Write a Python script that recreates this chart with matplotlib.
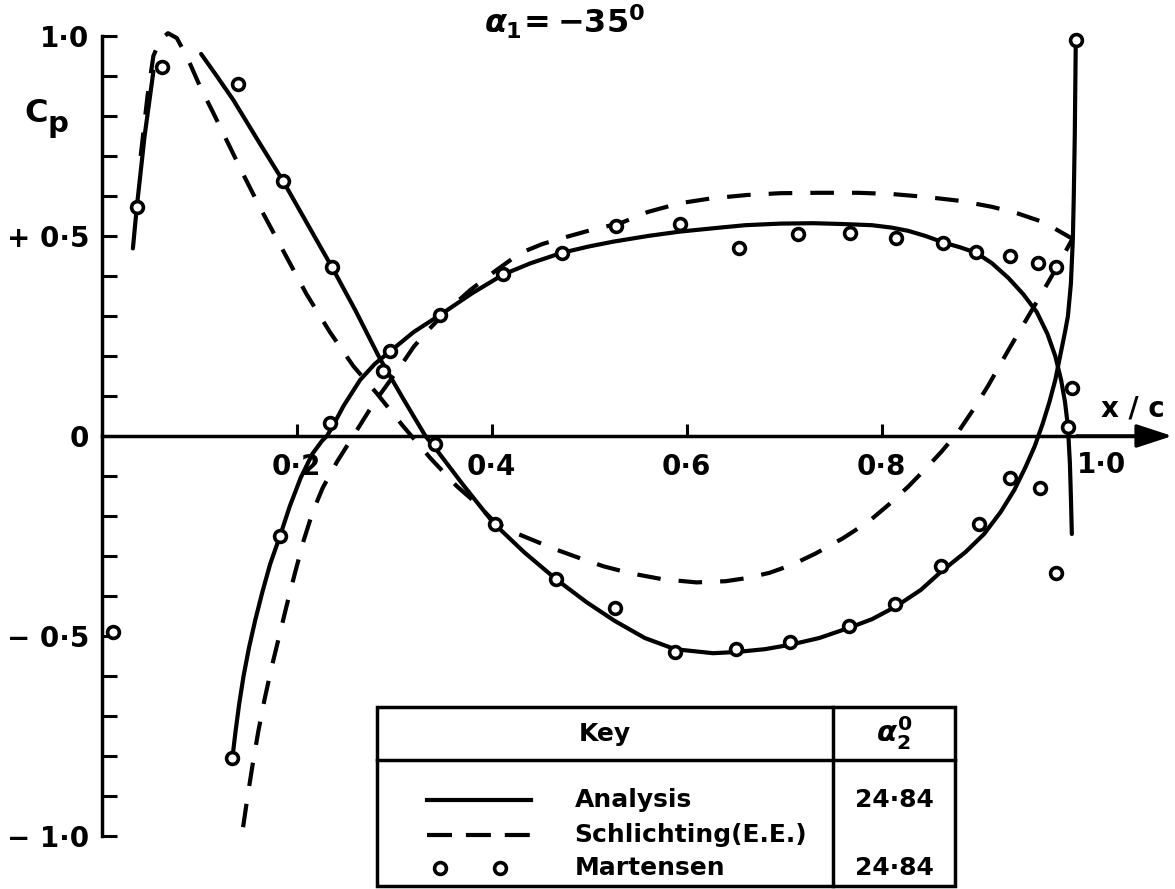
import numpy as np
import matplotlib.pyplot as plt
from matplotlib.patches import Rectangle
from matplotlib.lines import Line2D

plt.rcParams["font.family"] = ["DejaVu Sans"]
plt.rcParams["font.weight"] = "bold"
plt.rcParams["mathtext.fontset"] = "custom"
plt.rcParams["mathtext.rm"] = "DejaVu Sans:bold"
plt.rcParams["mathtext.it"] = "DejaVu Sans:italic:bold"
plt.rcParams["mathtext.bf"] = "DejaVu Sans:bold"
plt.rcParams["lines.scale_dashes"] = False

# --- Analysis (solid), pressure surface: leading-edge piece and main run ---
x_an_le = [0.032, 0.036, 0.044, 0.053]
cp_an_le = [0.469, 0.572, 0.75, 0.911]
x_an_p = [0.102, 0.118, 0.135, 0.160, 0.186, 0.211, 0.236, 0.260, 0.285, 0.310,
          0.332, 0.342, 0.370, 0.402, 0.433, 0.466, 0.497, 0.526, 0.557, 0.588,
          0.627, 0.651, 0.680, 0.706, 0.736, 0.766, 0.790, 0.814, 0.840, 0.861,
          0.886, 0.905, 0.922, 0.936, 0.948, 0.957, 0.965, 0.972, 0.978, 0.983,
          0.988, 0.991, 0.994, 0.996, 0.997, 0.998, 0.999]
cp_an_p = [0.955, 0.90, 0.84, 0.74, 0.6375, 0.53, 0.423, 0.315, 0.195, 0.09,
           0.0, -0.03, -0.12, -0.218, -0.29, -0.358, -0.415, -0.462, -0.505, -0.533,
           -0.543, -0.54, -0.533, -0.522, -0.505, -0.48, -0.458, -0.427, -0.385, -0.339,
           -0.29, -0.245, -0.19, -0.135, -0.075, -0.025, 0.03, 0.085, 0.14, 0.20,
           0.26, 0.30, 0.38, 0.49, 0.60, 0.75, 0.98]

# --- Analysis (solid), suction surface ---
x_an_s = [0.134, 0.1372, 0.1410, 0.1455, 0.1510, 0.1575, 0.1648, 0.1728, 0.183, 0.193,
          0.204, 0.216, 0.226, 0.231, 0.236, 0.248, 0.265, 0.280, 0.296, 0.320,
          0.347, 0.380, 0.412, 0.440, 0.472, 0.500, 0.525, 0.560, 0.593, 0.630,
          0.660, 0.696, 0.730, 0.759, 0.790, 0.810, 0.827, 0.845, 0.863, 0.880,
          0.897, 0.913, 0.930, 0.945, 0.959, 0.970, 0.978, 0.984, 0.988, 0.991,
          0.993, 0.994, 0.995]
cp_an_s = [-0.806, -0.74, -0.67, -0.60, -0.53, -0.46, -0.39, -0.32, -0.249, -0.175,
           -0.105, -0.045, -0.012, 0.0, 0.02, 0.075, 0.14, 0.18, 0.212, 0.26,
           0.3025, 0.357, 0.404, 0.432, 0.458, 0.474, 0.486, 0.50, 0.511, 0.52,
           0.527, 0.531, 0.532, 0.53, 0.527, 0.521, 0.513, 0.50, 0.484, 0.472,
           0.458, 0.432, 0.395, 0.355, 0.31, 0.255, 0.20, 0.14, 0.085, 0.023,
           -0.068, -0.15, -0.245]

# --- Schlichting (E.E.) (dashed), pressure surface ---
x_sc_p = [0.040, 0.047, 0.053, 0.060, 0.068, 0.077, 0.088, 0.101, 0.114, 0.128,
          0.145, 0.162, 0.178, 0.193, 0.210, 0.234, 0.258, 0.282, 0.309, 0.337,
          0.364, 0.385, 0.403, 0.420, 0.439, 0.465, 0.491, 0.515, 0.542, 0.575,
          0.610, 0.640, 0.662, 0.685, 0.708, 0.732, 0.760, 0.786, 0.807, 0.827,
          0.845, 0.861, 0.879, 0.895, 0.909, 0.930, 0.950, 0.965, 0.978, 0.995]
cp_sc_p = [0.70, 0.85, 0.95, 0.99, 1.007, 0.995, 0.945, 0.873, 0.81, 0.74,
           0.655, 0.573, 0.50, 0.432, 0.355, 0.26, 0.175, 0.107, 0.025, -0.055,
           -0.125, -0.17, -0.215, -0.238, -0.257, -0.283, -0.306, -0.326, -0.343, -0.358,
           -0.366, -0.363, -0.355, -0.342, -0.322, -0.294, -0.256, -0.215, -0.172, -0.127,
           -0.082, -0.04, 0.012, 0.07, 0.125, 0.215, 0.298, 0.36, 0.415, 0.49]

# --- Schlichting (E.E.) (dashed), suction surface ---
x_sc_s = [0.145, 0.1497, 0.1549, 0.1605, 0.1669, 0.1741, 0.1821, 0.1901, 0.1985, 0.2073,
          0.2164, 0.2266, 0.2412, 0.258, 0.279, 0.306, 0.320, 0.333, 0.355, 0.378,
          0.405, 0.429, 0.452, 0.477, 0.505, 0.532, 0.560, 0.593, 0.625, 0.662,
          0.696, 0.735, 0.776, 0.810, 0.844, 0.880, 0.913, 0.940, 0.964, 0.980, 0.995]
cp_sc_s = [-0.978, -0.90, -0.82, -0.74, -0.66, -0.58, -0.50, -0.42, -0.34, -0.26,
           -0.19, -0.13, -0.065, 0.0, 0.082, 0.173, 0.223, 0.26, 0.315, 0.365,
           0.415, 0.457, 0.48, 0.498, 0.517, 0.532, 0.56, 0.582, 0.594, 0.6025,
           0.607, 0.608, 0.608, 0.605, 0.598, 0.588, 0.573, 0.556, 0.536, 0.515, 0.494]

# --- Martensen (circles) ---
x_mt_p = [0.036, 0.062, 0.140, 0.186, 0.236, 0.288, 0.342, 0.403, 0.466, 0.526,
          0.588, 0.651, 0.706, 0.766, 0.814, 0.861, 0.900, 0.932, 0.962, 0.979, 0.999]
cp_mt_p = [0.572, 0.923, 0.88, 0.6375, 0.423, 0.163, -0.021, -0.22, -0.358, -0.429,
           -0.541, -0.533, -0.516, -0.475, -0.42, -0.325, -0.22, -0.106, -0.131, -0.342, 0.99]
x_mt_s = [0.012, 0.134, 0.183, 0.234, 0.296, 0.347, 0.412, 0.472, 0.527, 0.593,
          0.654, 0.714, 0.767, 0.815, 0.863, 0.897, 0.932, 0.960, 0.979, 0.995, 0.991]
cp_mt_s = [-0.49, -0.806, -0.249, 0.032, 0.212, 0.3025, 0.404, 0.458, 0.525, 0.53,
           0.471, 0.505, 0.507, 0.494, 0.483, 0.461, 0.45, 0.432, 0.422, 0.119, 0.023]

y_major = [-1.0, -0.5, 0.0, 0.5, 1.0]
y_major_labels = ["\u2212 1\u00b70", "\u2212 0\u00b75", "0", "+ 0\u00b75", "1\u00b70"]
x_major = [0.2, 0.4, 0.6, 0.8]
x_major_labels = ["0\u00b72", "0\u00b74", "0\u00b76", "0\u00b78"]

key_rows = ["Analysis", "Schlichting(E.E.)", "Martensen"]
key_alpha2 = ["24\u00b784", "", "24\u00b784"]

LW = 3.0
DASH = (0, (17, 13))

fig = plt.figure(figsize=(11.75, 8.89), dpi=100)
ax = fig.add_axes([0, 0, 1, 1])
ax.set_xlim(-0.1043, 1.1008)
ax.set_ylim(-1.1325, 1.09)

solid = dict(color="black", lw=LW, solid_joinstyle="round", solid_capstyle="round", zorder=2)
dashed = dict(color="black", lw=LW, linestyle=DASH, dash_capstyle="butt", zorder=2)
ax.plot(x_an_le, cp_an_le, **solid)
ax.plot(x_an_p, cp_an_p, **solid)
ax.plot(x_an_s, cp_an_s, **solid)
ax.plot(x_sc_p, cp_sc_p, **dashed)
ax.plot(x_sc_s, cp_sc_s, **dashed)
circ = dict(ls="none", marker="o", ms=8.5, mfc="white", mec="black", mew=2.6, zorder=3)
ax.plot(x_mt_p, cp_mt_p, **circ)
ax.plot(x_mt_s, cp_mt_s, **circ)

# axes drawn through the origin, x axis ends in an arrow
for side in ("top", "right"):
    ax.spines[side].set_visible(False)
ax.spines["left"].set_position(("data", 0))
ax.spines["left"].set_bounds(-1, 1)
ax.spines["bottom"].set_position(("data", 0))
ax.spines["bottom"].set_bounds(0, 1.06)
for side in ("left", "bottom"):
    ax.spines[side].set_linewidth(2.5)
ax.annotate("", xy=(1.098, 0), xytext=(1.0, 0),
            arrowprops=dict(arrowstyle="-|>,head_length=1.1,head_width=0.36",
                            lw=2.5, color="black", shrinkA=0, shrinkB=0,
                            mutation_scale=20))

ax.set_yticks(y_major)
ax.set_yticklabels(y_major_labels, fontsize=20, fontweight="bold")
ax.set_yticks([v / 10 for v in range(-9, 10) if v not in (-5, 0, 5)], minor=True)
ax.tick_params(axis="y", which="both", direction="in", length=11, width=2.2, pad=9)
ax.yaxis.get_major_ticks()[2].tick1line.set_visible(False)

ax.set_xticks(x_major)
ax.set_xticklabels(x_major_labels, fontsize=20, fontweight="bold")
ax.tick_params(axis="x", direction="in", length=9, width=2.2, pad=12)
ax.text(1.0005, -0.072, "1\u00b70", fontsize=20, fontweight="bold", ha="left", va="center")

ax.text(-0.067, 0.805, "C", fontsize=23, fontweight="bold", ha="center", va="center")
ax.text(-0.045, 0.78, "p", fontsize=21, fontweight="bold", ha="center", va="center")
ax.text(0.475, 1.035, r"$\alpha_1\!= -35^0$", fontsize=23, ha="center", va="center")
ax.text(1.058, 0.07, "x / c", fontsize=20, fontweight="bold", ha="center", va="center")

# key table, laid out in axes fractions
tr = ax.transAxes
L, R, D = 0.3209, 0.8128, 0.7089
T, H, B = 0.2047, 0.1451, 0.0034
ax.add_patch(Rectangle((L, B), R - L, T - B, transform=tr, fill=False, lw=2.5,
                       ec="black", zorder=4))
ax.add_line(Line2D([L, R], [H, H], transform=tr, color="black", lw=2.5, zorder=4))
ax.add_line(Line2D([D, D], [B, T], transform=tr, color="black", lw=2.5, zorder=4))
ax.text((L + D) / 2, (T + H) / 2, "Key", transform=tr, fontsize=18,
        fontweight="bold", ha="center", va="center")
ax.text((D + R) / 2, (T + H) / 2, r"$\alpha_2^0$", transform=tr, fontsize=21,
        ha="center", va="center")

row_y = [0.1001, 0.0608, 0.0236]
sx0, sx1 = 0.3634, 0.4519
ax.add_line(Line2D([sx0, sx1], [row_y[0]] * 2, transform=tr, color="black", lw=LW))
ax.add_line(Line2D([sx0, sx1], [row_y[1]] * 2, transform=tr, color="black", lw=LW,
                   linestyle=(0, (18, 10)), dash_capstyle="butt"))
ax.add_line(Line2D([0.3745, 0.4255], [row_y[2]] * 2, transform=tr, **circ))
for yy, name, a2 in zip(row_y, key_rows, key_alpha2):
    ax.text(0.489, yy, name, transform=tr, fontsize=18, fontweight="bold",
            ha="left", va="center")
    if a2:
        ax.text((D + R) / 2, yy, a2, transform=tr, fontsize=18, fontweight="bold",
                ha="center", va="center")

fig.savefig("out.png", dpi=100)
